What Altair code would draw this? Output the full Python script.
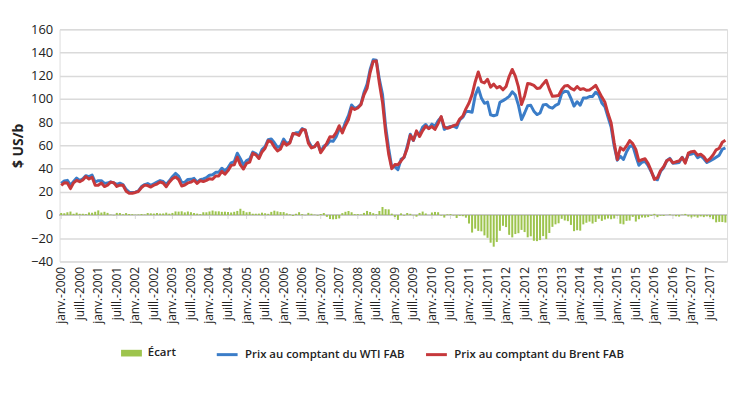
import altair as alt
import pandas as pd

years = list(range(2000, 2018))

wti = [
    27.26, 29.37, 29.84, 25.72, 28.79, 31.82, 29.70, 31.26, 33.88, 33.11, 34.42, 28.44,
    29.59, 29.61, 27.25, 27.49, 28.63, 27.60, 26.43, 27.37, 26.20, 22.17, 19.64, 19.39,
    19.72, 20.72, 24.53, 26.18, 27.04, 25.52, 26.97, 28.39, 29.66, 28.84, 26.35, 29.46,
    32.95, 35.83, 33.51, 28.17, 28.11, 30.66, 30.75, 31.57, 28.31, 30.34, 31.11, 32.13,
    34.31, 34.69, 36.74, 36.75, 40.28, 38.03, 40.78, 44.90, 45.94, 53.28, 48.47, 43.15,
    46.84, 48.15, 54.19, 52.98, 49.83, 56.35, 59.00, 64.99, 65.59, 62.26, 58.32, 59.41,
    65.49, 61.63, 62.69, 69.44, 70.84, 70.95, 74.41, 73.04, 63.80, 58.89, 59.08, 61.96,
    54.51, 59.28, 60.44, 63.98, 63.45, 67.49, 74.12, 72.36, 79.92, 85.80, 94.77, 91.69,
    92.97, 95.39, 105.45, 112.58, 125.40, 133.88, 133.37, 116.67, 104.11, 76.61, 57.31, 41.12,
    41.71, 39.09, 47.94, 49.65, 59.03, 69.64, 64.15, 71.05, 69.41, 75.72, 77.99, 74.47,
    78.33, 76.39, 81.20, 84.29, 73.74, 75.34, 76.32, 76.60, 75.24, 81.89, 84.25, 89.15,
    89.17, 88.58, 102.86, 109.53, 100.90, 96.26, 97.30, 86.33, 85.52, 86.32, 97.16, 98.56,
    100.27, 102.20, 106.16, 103.32, 94.65, 82.30, 87.90, 94.13, 94.51, 89.49, 86.53, 87.86,
    94.76, 95.31, 92.94, 92.02, 94.51, 95.77, 104.67, 106.57, 106.29, 100.54, 93.86, 97.63,
    94.62, 100.82, 100.80, 102.07, 102.18, 105.79, 103.59, 96.54, 93.21, 84.40, 75.79, 59.29,
    47.22, 50.58, 47.82, 54.45, 59.27, 59.82, 50.90, 42.87, 45.48, 46.22, 42.44, 37.19,
    31.68, 30.32, 37.55, 40.75, 46.71, 48.76, 44.65, 44.72, 45.18, 49.78, 45.66, 51.97,
    52.50, 53.47, 49.33, 51.06, 48.48, 45.18, 46.63, 48.04, 49.82, 51.58, 56.64, 57.88,
]

brent = [
    25.51, 27.78, 27.49, 22.76, 27.74, 29.80, 28.68, 30.20, 33.14, 30.96, 32.55, 25.66,
    25.62, 27.50, 24.50, 25.66, 28.31, 27.85, 24.61, 25.68, 25.62, 20.54, 18.80, 18.71,
    19.42, 20.28, 23.70, 25.73, 25.35, 24.08, 25.74, 26.65, 28.40, 27.54, 24.34, 28.33,
    31.18, 32.77, 30.61, 25.00, 25.86, 27.65, 28.35, 29.89, 27.11, 29.61, 28.75, 29.81,
    31.28, 30.86, 33.63, 33.59, 37.57, 35.18, 38.22, 42.74, 43.20, 49.78, 43.11, 39.60,
    44.51, 45.48, 53.10, 51.88, 48.65, 54.35, 57.52, 63.98, 62.91, 58.54, 55.24, 56.86,
    62.99, 60.21, 62.06, 70.26, 69.78, 68.56, 73.67, 73.23, 61.96, 57.81, 58.76, 62.47,
    53.68, 57.56, 62.05, 67.49, 67.21, 71.05, 76.93, 70.76, 77.17, 82.34, 92.41, 90.93,
    92.18, 94.99, 103.64, 109.07, 122.80, 132.32, 132.72, 113.24, 97.23, 71.58, 52.45, 39.95,
    43.44, 43.32, 46.54, 50.18, 57.30, 68.61, 64.44, 72.51, 67.65, 72.77, 76.66, 74.46,
    76.17, 73.75, 78.83, 84.82, 75.95, 74.76, 75.58, 77.04, 77.84, 82.67, 85.28, 91.45,
    96.52, 103.72, 114.64, 123.26, 114.99, 113.83, 116.97, 110.22, 112.83, 109.55, 110.77, 107.87,
    110.69, 119.33, 125.45, 119.75, 110.34, 95.16, 102.62, 113.36, 112.86, 111.71, 109.06, 109.49,
    112.96, 116.05, 108.47, 102.25, 102.56, 102.92, 107.93, 111.28, 111.60, 109.08, 107.79, 110.76,
    108.12, 108.90, 107.48, 107.76, 109.54, 111.80, 106.77, 101.61, 97.09, 87.43, 79.44, 62.34,
    47.76, 58.10, 55.89, 59.52, 64.08, 61.48, 56.56, 46.52, 47.62, 48.43, 44.27, 38.01,
    30.70, 32.18, 38.21, 41.58, 46.74, 48.25, 44.95, 45.84, 46.57, 49.52, 44.73, 53.31,
    54.58, 54.87, 51.59, 52.31, 50.33, 46.37, 48.48, 51.70, 56.15, 57.51, 62.71, 64.37,
]

months = [f"{y}-{m:02d}" for y in years for m in range(1, 13)]
tick_months = [f"{y}-{m:02d}" for y in years for m in (1, 7)]

df = pd.DataFrame({"mois": months, "WTI": wti, "Brent": brent})
df["Ecart"] = (df["WTI"] - df["Brent"]).round(2)
df["zero"] = 0.0
df["tick"] = df["mois"].isin(tick_months)

FONT = "Open Sans"
label_expr = "(substring(datum.value, 5, 7) == '01' ? 'janv.-' : 'juill.-') + substring(datum.value, 0, 4)"

xscale = alt.Scale(paddingInner=0.35, paddingOuter=0.2)
yscale = alt.Scale(domain=[-40, 160])

x_axis = alt.Axis(values=tick_months, labelExpr=label_expr, labelAngle=-90,
                  labelFontSize=12, labelColor="#222222", labelFont=FONT,
                  labelFontWeight=500, labelPadding=5, domain=False, ticks=False,
                  orient="bottom")
y_axis = alt.Axis(values=list(range(-40, 161, 20)), grid=True, gridColor="#DADADA",
                  gridWidth=1.5, domain=False, ticks=False, labelFontSize=13,
                  labelColor="#222222", labelFont=FONT, labelPadding=7,
                  titleFont=FONT, titleFontSize=14, titleFontWeight="bold",
                  titleColor="#222222", titlePadding=5)


def X():
    return alt.X("mois:O", scale=xscale, sort=months, title=None, axis=x_axis)


def Y(field):
    return alt.Y(f"{field}:Q", scale=yscale, title="$ US/b", axis=y_axis)


def leg(x):
    return dict(title=None, orient="none", legendX=x, legendY=316,
                labelFont=FONT, labelFontSize=11.5, labelFontWeight=600,
                labelColor="#222222", labelOffset=6, labelLimit=0)


base = alt.Chart(df)

zero_rule = base.mark_rule(color="#C8C8C8", strokeWidth=1.5).encode(
    y=Y("zero"),
)

zero_ticks = base.transform_filter("datum.tick").mark_tick(
    color="#C8C8C8", size=4, thickness=1, yOffset=2, orient="vertical").encode(
    x=X(), y=Y("zero"),
)

bars = base.transform_calculate(serie="'Écart'").mark_bar().encode(
    x=X(),
    y=Y("Ecart"),
    fill=alt.Fill("serie:N", scale=alt.Scale(domain=["Écart"], range=["#9DC44D"]),
                  legend=alt.Legend(symbolType="M-1,-0.32H1V0.32H-1Z", symbolSize=441,
                                    symbolStrokeWidth=0, **leg(62))),
)

wti_line = base.transform_calculate(serie="'Prix au comptant du WTI FAB'").mark_line(
    strokeWidth=3, strokeJoin="round").encode(
    x=X(),
    y=Y("WTI"),
    stroke=alt.Stroke("serie:N", scale=alt.Scale(domain=["Prix au comptant du WTI FAB"], range=["#3B7DC8"]),
                      legend=alt.Legend(symbolType="stroke", symbolSize=441, symbolStrokeWidth=3, **leg(157))),
)

brent_line = base.transform_calculate(serie="'Prix au comptant du Brent FAB'").mark_line(
    strokeWidth=3, strokeJoin="round").encode(
    x=X(),
    y=Y("Brent"),
    stroke=alt.Stroke("serie:N", scale=alt.Scale(domain=["Prix au comptant du Brent FAB"], range=["#C6383B"]),
                      legend=alt.Legend(symbolType="stroke", symbolSize=441, symbolStrokeWidth=3, **leg(368))),
)

chart = alt.layer(zero_rule, zero_ticks, bars, wti_line, brent_line).resolve_scale(
    stroke="independent", fill="independent"
).resolve_legend(
    stroke="independent", fill="independent"
).properties(
    width=673, height=234,
    autosize=alt.AutoSizeParams(type="none"),
    padding={"left": 52, "top": 20, "right": 5, "bottom": 110},
).configure_view(stroke=None).configure(background="white")

chart.save("out.html", embed_options={"renderer": "svg", "actions": False})
